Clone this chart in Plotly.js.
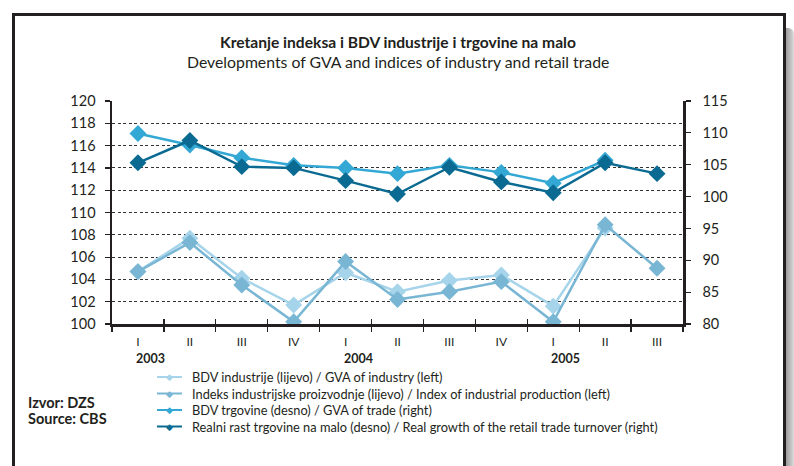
<!DOCTYPE html>
<html>
<head>
<meta charset="utf-8">
<script src="https://cdn.plot.ly/plotly-3.0.1.min.js"></script>
<style>
  html, body { margin: 0; padding: 0; background: #fff; }
  #wrap { position: relative; width: 794px; height: 466px; overflow: hidden; }
  #shadow { position: absolute; left: 781px; top: 28px; width: 13px; height: 460px;
            background: linear-gradient(to right, #555 0%, #999 35%, #bbb 70%, #ddd 100%); border-top-right-radius: 6px; }
  #frame { position: absolute; left: 12px; top: 13px; width: 768px; height: 470px;
           border: 3px solid #231f20; background: #fff; }
  #chart { position: absolute; left: 0; top: 0; width: 794px; height: 466px; }
</style>
</head>
<body>
<div id="wrap">
  <div id="shadow"></div>
  <div id="frame"></div>
  <div id="chart"></div>
</div>
<script>
// ---- data ----
const categories = ["2003 I", "2003 II", "2003 III", "2003 IV", "2004 I", "2004 II", "2004 III", "2004 IV", "2005 I", "2005 II", "2005 III"];
const quarterLabels = ["I", "II", "III", "IV", "I", "II", "III", "IV", "I", "II", "III"];
const yearLabels = ["2003", "2004", "2005"];
const yearStartCategories = ["2003 I", "2004 I", "2005 I"];

const gvaIndustry      = [104.7, 107.7, 104.1, 101.7, 104.6, 102.9, 103.9, 104.4, 101.6, 108.6, null];
const industrialProd   = [104.7, 107.3, 103.5, 100.2, 105.6, 102.2, 102.9, 103.8, 100.2, 108.9, 105.0];
const gvaTrade         = [109.9, 108.1, 106.1, 104.9, 104.5, 103.6, 104.9, 103.8, 102.1, 105.7, null];
const retailGrowth     = [105.3, 108.8, 104.7, 104.5, 102.5, 100.4, 104.6, 102.3, 100.6, 105.3, 103.6];

const seriesNames = [
  "BDV industrije (lijevo) / GVA of industry (left)",
  "Indeks industrijske proizvodnje (lijevo) / Index of industrial production (left)",
  "BDV trgovine (desno) / GVA of trade (right)",
  "Realni rast trgovine na malo (desno) / Real growth of the retail trade turnover (right)"
];
const colors = ["#a6d4ea", "#79b6d4", "#33a8d4", "#0a6a92"];

const FONT = "Lato, 'Open Sans', sans-serif";

function tr(y, i, xa, ya) {
  return {
    x: categories, y: y, name: seriesNames[i], type: "scatter", mode: "lines+markers",
    xaxis: xa, yaxis: ya, connectgaps: false, showlegend: false,
    line: { color: colors[i], width: 2.5 },
    marker: { symbol: "diamond", size: 13, color: colors[i] }
  };
}

const data = [
  tr(gvaIndustry, 0, "x", "y"),
  tr(industrialProd, 1, "x", "y"),
  tr(gvaTrade, 2, "x2", "y2"),
  tr(retailGrowth, 3, "x2", "y2")
];

// pixel -> paper helpers (plot area: x 112..683, y 101..324)
const px = v => (v - 112) / 571;
const py = v => (324 - v) / 223;

const annotations = [
  { text: "<b>Kretanje indeksa i BDV industrije i trgovine na malo</b>", xref: "paper", yref: "paper",
    x: 0.5, y: py(42), showarrow: false, font: { family: FONT, size: 15.6, color: "#231f20" }, xanchor: "center", yanchor: "middle" },
  { text: "Developments of GVA and indices of industry and retail trade", xref: "paper", yref: "paper",
    x: 0.5, y: py(62), showarrow: false, font: { family: FONT, size: 15.8, color: "#231f20" }, xanchor: "center", yanchor: "middle" },
  { text: "<b>Izvor: DZS</b>", xref: "paper", yref: "paper", align: "left",
    x: px(26), y: py(402), showarrow: false, font: { family: FONT, size: 14.5, color: "#231f20" }, xanchor: "left", yanchor: "middle" },
  { text: "<b>Source: CBS</b>", xref: "paper", yref: "paper", align: "left",
    x: px(26), y: py(418), showarrow: false, font: { family: FONT, size: 14.5, color: "#231f20" }, xanchor: "left", yanchor: "middle" }
];
yearLabels.forEach((yl, k) => {
  annotations.push({ text: "<b>" + yl + "</b>", xref: "x", yref: "paper", x: yearStartCategories[k],
    y: py(358), showarrow: false, xanchor: "left", yanchor: "middle", xshift: -4,
    font: { family: FONT, size: 12.5, color: "#231f20" } });
});

// legend drawn as shapes + annotations
const shapes = [];
const legendRows = [377, 393.5, 410, 426.5];
seriesNames.forEach((nm, i) => {
  const yy = py(legendRows[i]);
  shapes.push({ type: "line", xref: "paper", yref: "paper", x0: px(157), x1: px(182), y0: yy, y1: yy,
                line: { color: colors[i], width: 2 } });
  annotations.push({ text: "\u25C6", xref: "paper", yref: "paper", x: px(169.5), y: yy, showarrow: false,
                     xanchor: "center", yanchor: "middle", font: { family: "DejaVu Sans", size: 9, color: colors[i] } });
  annotations.push({ text: nm, xref: "paper", yref: "paper", x: px(190), y: yy, showarrow: false,
                     xanchor: "left", yanchor: "middle", font: { family: FONT, size: 12.8, color: "#231f20" } });
});

const layout = {
  width: 794, height: 466,
  margin: { l: 112, r: 111, t: 101, b: 142 },
  paper_bgcolor: "rgba(0,0,0,0)", plot_bgcolor: "rgba(0,0,0,0)",
  showlegend: false,
  xaxis: { type: "category", categoryarray: categories, tickvals: categories, ticktext: quarterLabels,
           tickson: "boundaries", ticks: "outside", ticklen: 5, tickwidth: 1.2, tickcolor: "#231f20",
           showline: true, linecolor: "#231f20", linewidth: 2.5, showgrid: false, zeroline: false,
           ticklabelstandoff: 5,
           tickfont: { family: FONT, size: 12, color: "#231f20" }, range: [-0.5, 10.5] },
  xaxis2: { type: "category", categoryarray: categories, overlaying: "x", anchor: "y2", side: "bottom",
            tickson: "boundaries", ticks: "inside", ticklen: 5, tickwidth: 1.2, tickcolor: "#231f20",
            showticklabels: false, showline: false, showgrid: false, zeroline: false, range: [-0.5, 10.5] },
  yaxis: { range: [100, 120], dtick: 2, tick0: 100, ticks: "outside", ticklen: 5, tickwidth: 1.2, tickcolor: "#231f20",
           showline: true, linecolor: "#231f20", linewidth: 2.5, zeroline: false,
           showgrid: true, gridcolor: "#333", gridwidth: 1, griddash: "3px,2.5px",
           ticklabelstandoff: 6,
           tickfont: { family: FONT, size: 14.5, color: "#231f20" } },
  yaxis3: { range: [100, 120], dtick: 2, tick0: 100, overlaying: "y", anchor: "x", side: "left",
            ticks: "inside", ticklen: 4, tickwidth: 1.2, tickcolor: "#231f20", showticklabels: false,
            showline: false, showgrid: false, zeroline: false },
  yaxis2: { range: [80, 115], dtick: 5, tick0: 80, overlaying: "y", side: "right", anchor: "x2",
            ticks: "outside", ticklen: 5, tickwidth: 1.2, tickcolor: "#231f20",
            showline: true, linecolor: "#231f20", linewidth: 2.5, showgrid: false, zeroline: false,
            ticklabelstandoff: 9,
            tickfont: { family: FONT, size: 14.5, color: "#231f20" } },
  shapes: shapes,
  annotations: annotations
};

Plotly.newPlot("chart", data, layout, { displayModeBar: false, staticPlot: true });
</script>
</body>
</html>
